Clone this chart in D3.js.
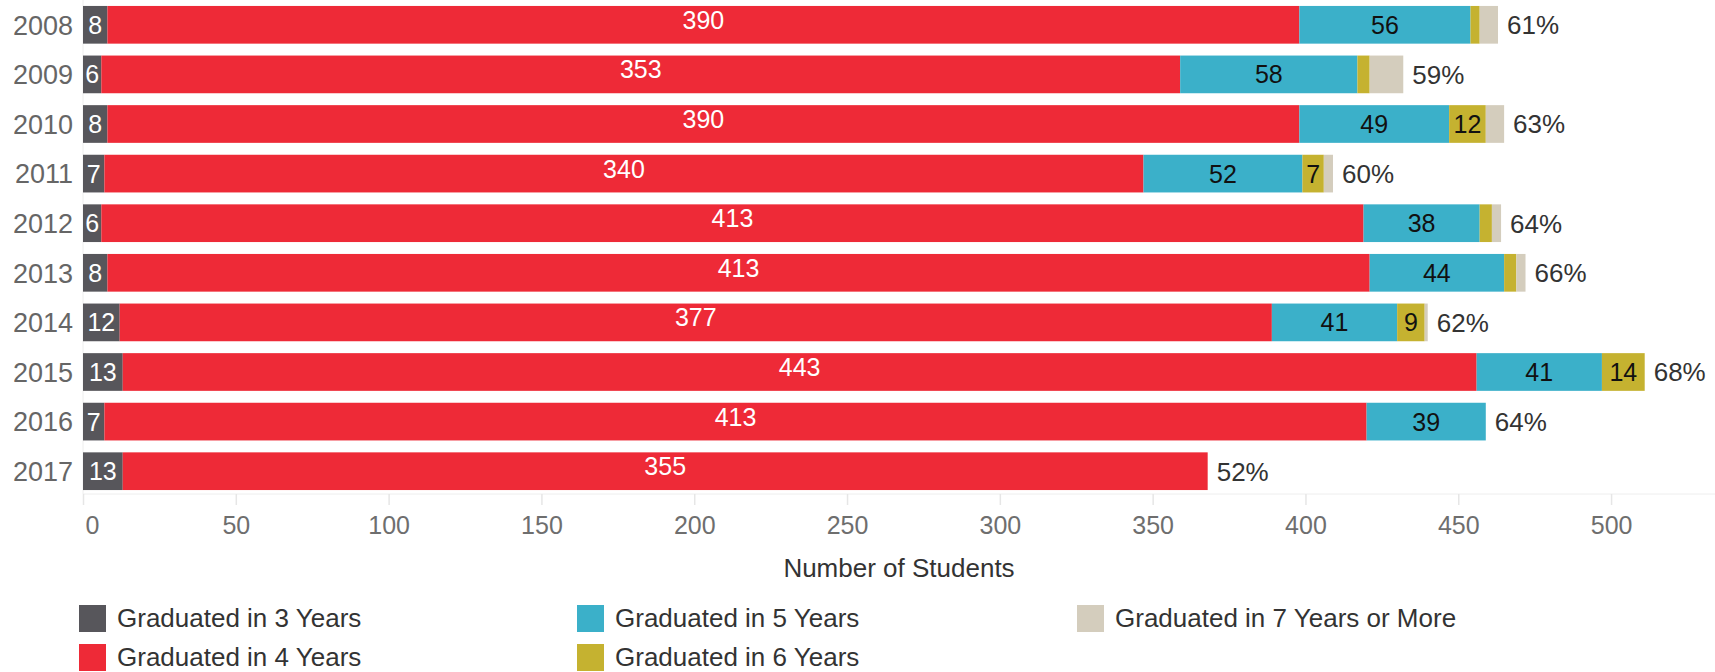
<!DOCTYPE html>
<html>
<head>
<meta charset="utf-8">
<script src="https://cdn.jsdelivr.net/npm/d3@7"></script>
<style>
  body { margin: 0; background: #fff; }
  svg { display: block; font-family: "Liberation Sans", Arial, sans-serif; }
</style>
</head>
<body>
<svg id="chart" width="1715" height="672"></svg>
<script>
// data
var years = ["2008", "2009", "2010", "2011", "2012", "2013", "2014", "2015", "2016", "2017"];
var grad3 = [8, 6, 8, 7, 6, 8, 12, 13, 7, 13];
var grad4 = [390, 353, 390, 340, 413, 413, 377, 443, 413, 355];
var grad5 = [56, 58, 49, 52, 38, 44, 41, 41, 39, 0];
var grad6 = [3, 4, 12, 7, 4, 4, 9, 14, 0, 0];
var grad7 = [6, 11, 6, 3, 3, 3, 1, 0, 0, 0];
var rates = [61, 59, 63, 60, 64, 66, 62, 68, 64, 52];
var seriesNames = ["Graduated in 3 Years", "Graduated in 4 Years", "Graduated in 5 Years",
                   "Graduated in 6 Years", "Graduated in 7 Years or More"];
var xTicks = [0, 50, 100, 150, 200, 250, 300, 350, 400, 450, 500];

var colors = ["#57565b", "#ee2a37", "#3bb0c9", "#c5b230", "#d4cdbd"];
var labelColors = ["#fff", "#fff", "#111", "#111", null];
var labelShift = [0, -5, 0, 0, 0]; // the red labels sit a bit high in the original

var series = [grad3, grad4, grad5, grad6, grad7];
var svg = d3.select("#chart");

var x = d3.scaleLinear().domain([0, 534]).range([83, 1715]);
var y = d3.scaleBand().domain(years).range([0, 496]).paddingInner(0.24).paddingOuter(0.12);

// light frame lines
svg.append("line").attr("x1", 83).attr("x2", 83).attr("y1", 0).attr("y2", 494)
  .attr("stroke", "#eeeeee");

// x axis
var xAxis = svg.append("g").attr("transform", "translate(0,494)")
  .call(d3.axisBottom(x).tickValues(xTicks).tickSize(11).tickPadding(11));
xAxis.select(".domain").attr("stroke", "#eeeeee").attr("d", "M83,0H1715");
xAxis.selectAll(".tick line").attr("stroke", "#e6e6e6").attr("stroke-width", 1.5);
xAxis.selectAll(".tick text").attr("fill", "#6e6e6e").attr("font-size", 25)
  .attr("font-family", "Liberation Sans, Arial, sans-serif");
xAxis.selectAll(".tick text").filter(function(d) { return d === 0; })
  .attr("text-anchor", "start").attr("dx", 2);

svg.append("text").attr("x", 899).attr("y", 577).attr("text-anchor", "middle")
  .attr("font-size", 26).attr("fill", "#333").text("Number of Students");

// year labels
svg.selectAll(".year").data(years).enter().append("text")
  .attr("x", 73).attr("y", function(d) { return y(d) + y.bandwidth() / 2; })
  .attr("dy", "0.36em").attr("text-anchor", "end")
  .attr("font-size", 27).attr("fill", "#666").text(function(d) { return d; });

// stacked segments
years.forEach(function(yr, i) {
  var start = 0;
  series.forEach(function(s, k) {
    var v = s[i];
    if (v > 0) {
      svg.append("rect")
        .attr("x", x(start)).attr("y", y(yr))
        .attr("width", x(start + v) - x(start)).attr("height", y.bandwidth())
        .attr("fill", colors[k]);
      var show = labelColors[k] && (k < 3 || v >= 7);
      if (show) {
        svg.append("text")
          .attr("x", (x(start) + x(start + v)) / 2)
          .attr("y", y(yr) + y.bandwidth() / 2 + labelShift[k])
          .attr("dy", "0.36em").attr("text-anchor", "middle")
          .attr("font-size", 25).attr("fill", labelColors[k]).text(v);
      }
    }
    start += v;
  });
  svg.append("text")
    .attr("x", x(start) + 9).attr("y", y(yr) + y.bandwidth() / 2)
    .attr("dy", "0.36em").attr("font-size", 26).attr("fill", "#333")
    .text(rates[i] + "%");
});

// legend, column-major, 2 rows
var legendCols = [79, 577, 1077];
var legendRows = [618, 657];
seriesNames.forEach(function(name, k) {
  var lx = legendCols[Math.floor(k / 2)], ly = legendRows[k % 2];
  svg.append("rect").attr("x", lx).attr("y", ly - 13).attr("width", 27).attr("height", 27)
    .attr("fill", colors[k]);
  svg.append("text").attr("x", lx + 38).attr("y", ly).attr("dy", "0.36em")
    .attr("font-size", 26).attr("fill", "#333").text(name);
});
</script>
</body>
</html>
